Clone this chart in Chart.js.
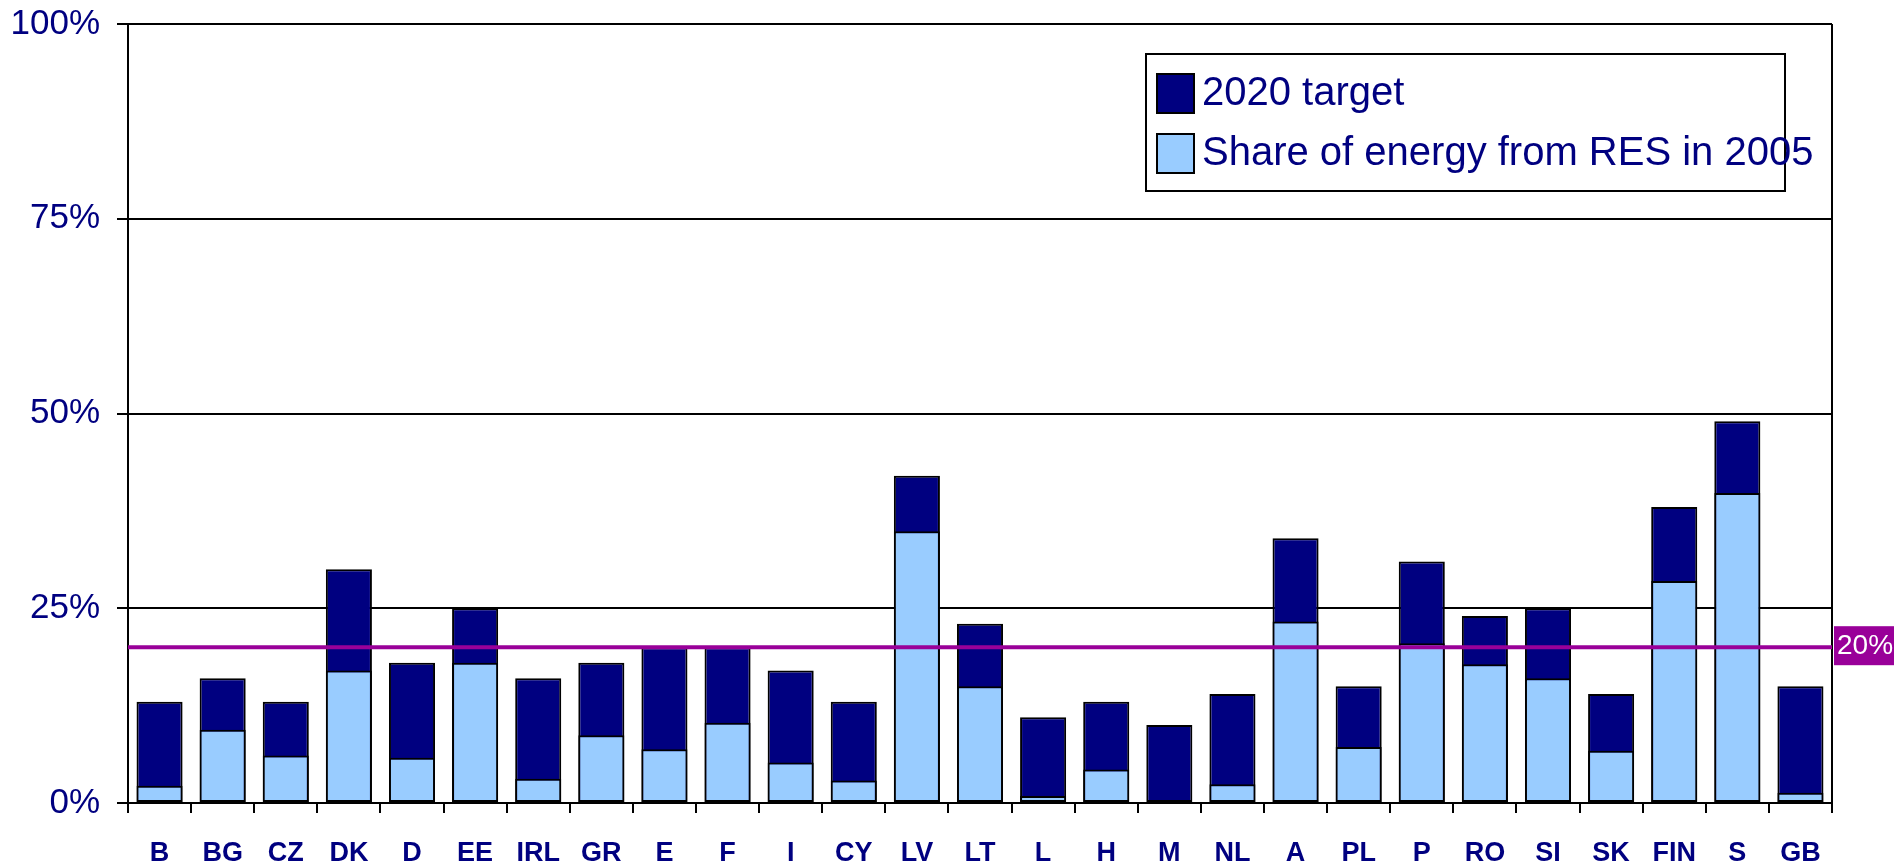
<!DOCTYPE html>
<html>
<head>
<meta charset="utf-8">
<title>RES share 2005 vs 2020 target</title>
<script src="https://cdn.jsdelivr.net/npm/chart.js@4.4.1/dist/chart.umd.min.js"></script>
<style>
    html, body { margin: 0; padding: 0; background: #fff; }
    #wrap { width: 1894px; height: 868px; }
</style>
</head>
<body>
<div id="wrap"><canvas id="resChart" width="1894" height="868"></canvas></div>
<script>
// ============================================
// DATA
// ============================================
const countries = ['B', 'BG', 'CZ', 'DK', 'D', 'EE', 'IRL', 'GR', 'E', 'F', 'I', 'CY', 'LV', 'LT',
    'L', 'H', 'M', 'NL', 'A', 'PL', 'P', 'RO', 'SI', 'SK', 'FIN', 'S', 'GB'];
const target2020 = [13, 16, 13, 30, 18, 25, 16, 18, 20, 20, 17, 13, 42, 23,
    11, 13, 10, 14, 34, 15, 31, 24, 25, 14, 38, 49, 15];
const share2005 = [2.2, 9.4, 6.1, 17.0, 5.8, 18.0, 3.1, 8.7, 6.9, 10.3, 5.2, 2.9, 34.9, 15.0,
    0.9, 4.3, 0, 2.4, 23.3, 7.2, 20.5, 17.8, 16.0, 6.7, 28.5, 39.8, 1.3];
const yTicks = [0, 25, 50, 75, 100];
const euTarget = 20;
const seriesLabels = ['2020 target', 'Share of energy from RES in 2005'];

const NAVY = '#000080';
const LIGHT = '#99ccff';
const PURPLE = '#990099';
const FONT = "'Liberation Sans', Arial, sans-serif";

// ============================================
// PLUGINS
// ============================================
// purple 20% line + label, right frame line
const targetLinePlugin = {
    id: 'targetLine',
    afterDatasetsDraw(chart) {
        const { ctx, chartArea, scales } = chart;
        const y = scales.y.getPixelForValue(euTarget);
        ctx.save();
        // right frame
        ctx.strokeStyle = '#000';
        ctx.lineWidth = 2;
        ctx.beginPath();
        ctx.moveTo(chartArea.right, chartArea.top);
        ctx.lineTo(chartArea.right, chartArea.bottom);
        ctx.stroke();
        // 20% line
        ctx.strokeStyle = PURPLE;
        ctx.lineWidth = 4;
        ctx.beginPath();
        ctx.moveTo(chartArea.left, y);
        ctx.lineTo(chartArea.right, y);
        ctx.stroke();
        // label box
        ctx.fillStyle = PURPLE;
        ctx.fillRect(chartArea.right + 2, y - 21, chart.width - chartArea.right, 39);
        ctx.fillStyle = '#fff';
        ctx.font = '28px ' + FONT;
        ctx.textBaseline = 'middle';
        ctx.textAlign = 'left';
        ctx.fillText(euTarget + '%', chartArea.right + 5, y - 1);
        ctx.restore();
    }
};

// boxed legend in the upper right
const boxLegendPlugin = {
    id: 'boxLegend',
    afterDraw(chart) {
        const { ctx } = chart;
        const colors = [NAVY, LIGHT];
        const bx = 1146, by = 54, bw = 639, bh = 137;
        ctx.save();
        ctx.fillStyle = '#fff';
        ctx.fillRect(bx, by, bw, bh);
        ctx.strokeStyle = '#000';
        ctx.lineWidth = 2;
        ctx.strokeRect(bx, by, bw, bh);
        ctx.font = '40px ' + FONT;
        ctx.textBaseline = 'middle';
        ctx.textAlign = 'left';
        seriesLabels.forEach((label, i) => {
            const sy = by + 20 + i * 60;
            ctx.fillStyle = colors[i];
            ctx.fillRect(1157, sy, 37, 39);
            ctx.strokeRect(1157, sy, 37, 39);
            ctx.fillStyle = NAVY;
            ctx.fillText(label, 1202, sy + 20);
        });
        ctx.restore();
    }
};

// ============================================
// CHART
// ============================================
function initChart() {
    const ctx = document.getElementById('resChart');

    new Chart(ctx, {
        type: 'bar',
        data: {
            labels: countries,
            datasets: [
                {
                    label: seriesLabels[1],
                    data: share2005,
                    backgroundColor: LIGHT,
                    borderColor: '#000',
                    borderWidth: 2,
                    borderSkipped: false,
                    grouped: false,
                    order: 0
                },
                {
                    label: seriesLabels[0],
                    data: target2020,
                    backgroundColor: NAVY,
                    borderColor: '#000',
                    borderWidth: 2,
                    borderSkipped: false,
                    grouped: false,
                    order: 1
                }
            ]
        },
        options: {
            responsive: false,
            animation: false,
            devicePixelRatio: 1,
            layout: { padding: { top: 24, right: 62, left: 0, bottom: 0 } },
            datasets: { bar: { categoryPercentage: 1, barPercentage: 0.73 } },
            plugins: {
                legend: { display: false },
                tooltip: { enabled: false }
            },
            scales: {
                x: {
                    offset: true,
                    grid: {
                        offset: true,
                        drawOnChartArea: false,
                        color: '#000',
                        lineWidth: 2,
                        tickLength: 10
                    },
                    border: { color: '#000', width: 2 },
                    ticks: {
                        color: NAVY,
                        font: { family: FONT, size: 27, weight: 'bold' },
                        padding: 24,
                        maxRotation: 0,
                        autoSkip: false
                    },
                    afterFit: (scale) => {
                        scale.height = 65;
                        scale.paddingLeft = 0;
                        scale.paddingRight = 0;
                    }
                },
                y: {
                    min: 0,
                    max: 100,
                    afterBuildTicks: (scale) => {
                        scale.ticks = yTicks.map(v => ({ value: v }));
                    },
                    grid: {
                        color: '#000',
                        lineWidth: 2,
                        tickLength: 11
                    },
                    border: { color: '#000', width: 2 },
                    ticks: {
                        color: NAVY,
                        font: { family: FONT, size: 35 },
                        padding: 17,
                        callback: (value) => value + '%'
                    },
                    afterFit: (scale) => {
                        scale.width = 128;
                        scale.paddingTop = 0;
                        scale.paddingBottom = 0;
                    }
                }
            }
        },
        plugins: [targetLinePlugin, boxLegendPlugin]
    });
}

document.addEventListener('DOMContentLoaded', initChart);
</script>
</body>
</html>
